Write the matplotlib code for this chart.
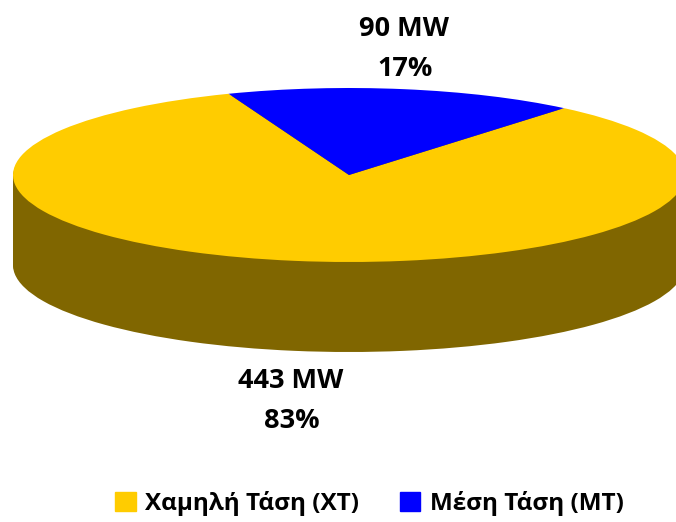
import matplotlib
matplotlib.use("Agg")
import matplotlib.pyplot as plt
from matplotlib.patches import Patch

categories = ["Χαμηλή Τάση (ΧΤ)", "Μέση Τάση (ΜΤ)"]
power_mw = [443, 90]
percent = [83, 17]
top_colors = ["#FFCC00", "#0000FF"]
side_color = "#806600"

plt.rcParams['font.family'] = ['Open Sans', 'DejaVu Sans']
W, H = 676, 522
fig = plt.figure(figsize=(W/100, H/100), dpi=100)

cx, cy, rx, ry, depth = 349, 175, 336, 87, 90
left = (cx-rx)/W; width = 2*rx/W
def pie_at(yc, colors, z):
    a = fig.add_axes([left, 1-(yc+ry)/H, width, 2*ry/H], zorder=z)
    a.pie(power_mw, colors=colors, startangle=111, counterclock=True, radius=1, normalize=True)
    a.set_aspect('auto')
    a.set_xlim(-1, 1); a.set_ylim(-1, 1)
    a.patch.set_alpha(0)
    a.set_axis_off()
    return a
for i, d in enumerate(range(depth, 0, -2)):
    pie_at(cy+d, [side_color, side_color], 1+i*0.001)
pie_at(cy, top_colors, 5)

ov = fig.add_axes([0, 0, 1, 1], zorder=10)
ov.set_axis_off(); ov.set_xlim(0, W); ov.set_ylim(H, 0)
fs = 19.5
ov.text(404, 29, f"{power_mw[1]} MW", ha='center', va='center', fontsize=fs, fontweight='bold')
ov.text(405, 69, f"{percent[1]}%", ha='center', va='center', fontsize=fs, fontweight='bold')
ov.text(291, 381, f"{power_mw[0]} MW", ha='center', va='center', fontsize=fs, fontweight='bold')
ov.text(292, 421, f"{percent[0]}%", ha='center', va='center', fontsize=fs, fontweight='bold')
handles = [Patch(color=c) for c in top_colors]
fig.legend(handles, categories, loc='center', bbox_to_anchor=(369.5/W, 1-503/H), ncol=2, frameon=False,
           prop={'size': 17.5, 'weight': 'bold'}, handlelength=0.83, handleheight=0.83, handletextpad=0.38,
           columnspacing=1.7, labelspacing=0, borderpad=0, borderaxespad=0).set_zorder(20)
fig.savefig("out.png", dpi=100)
